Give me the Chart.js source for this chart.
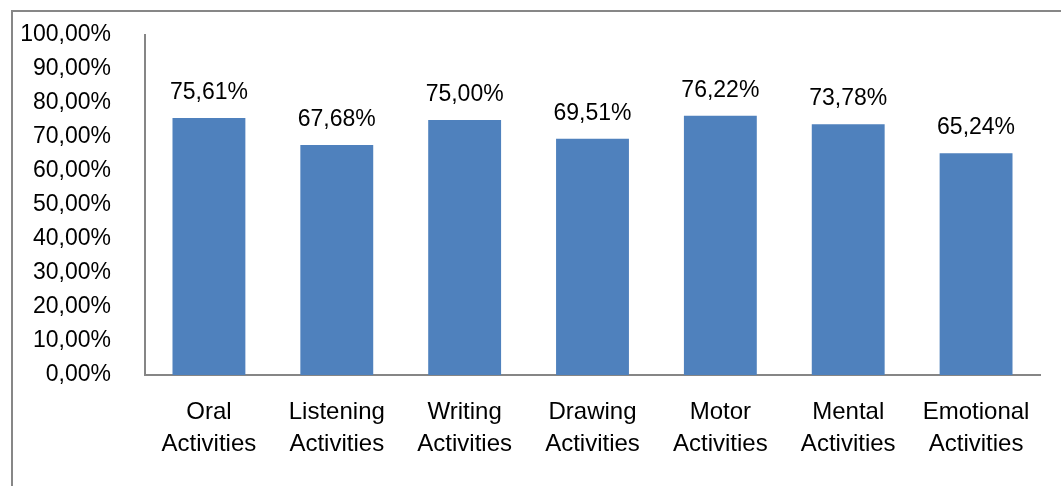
<!DOCTYPE html>
<html><head><meta charset="utf-8">
<script src="https://cdn.jsdelivr.net/npm/chart.js@4/dist/chart.umd.min.js"></script>
<style>html,body{margin:0;padding:0;background:#fff;overflow:hidden}#wrap{width:1061px;height:486px;position:relative}</style>
</head><body><div id="wrap"><canvas id="c" width="1061" height="486"></canvas></div>
<script>
const categories = [["Oral","Activities"],["Listening","Activities"],["Writing","Activities"],["Drawing","Activities"],["Motor","Activities"],["Mental","Activities"],["Emotional","Activities"]];
const values = [75.61, 67.68, 75.00, 69.51, 76.22, 73.78, 65.24];
const FONT = "'Liberation Sans', Arial, sans-serif";
const fmt = v => v.toFixed(2).replace('.', ',') + '%';

const frame = {
  id: 'frame',
  beforeDraw(chart) {
    const ctx = chart.ctx;
    ctx.save();
    ctx.fillStyle = '#fff';
    ctx.fillRect(0, 0, chart.width, chart.height);
    ctx.strokeStyle = '#878787';
    ctx.lineWidth = 2;
    ctx.beginPath();
    ctx.moveTo(12, 500);
    ctx.lineTo(12, 11);
    ctx.lineTo(1070, 11);
    ctx.stroke();
    ctx.restore();
  }
};
const labelsPlugin = {
  id: 'vlabels',
  afterDatasetsDraw(chart) {
    const ctx = chart.ctx;
    ctx.save();
    ctx.font = '23px ' + FONT;
    ctx.fillStyle = '#000';
    ctx.textAlign = 'center';
    ctx.textBaseline = 'alphabetic';
    chart.getDatasetMeta(0).data.forEach((bar, i) => {
      ctx.fillText(fmt(values[i]), bar.x, bar.y - 19);
    });
    ctx.restore();
  }
};

new Chart(document.getElementById('c'), {
  type: 'bar',
  data: { labels: categories, datasets: [{ data: values, backgroundColor: '#4F81BD', borderWidth: 0, categoryPercentage: 1, barPercentage: 0.57 }] },
  options: {
    responsive: false, animation: false,
    layout: { padding: { top: 35, right: 21, left: 0, bottom: 0 } },
    plugins: { legend: { display: false }, tooltip: { enabled: false } },
    scales: {
      x: {
        grid: { display: false },
        border: { display: true, color: '#868686', width: 2 },
        ticks: { color: '#000', font: { family: FONT, size: 24, lineHeight: 1.33 }, padding: 13, maxRotation: 0, autoSkip: false },
        afterFit(s) { s.height = 486 - 375; s.paddingLeft = 0; s.paddingRight = 0; }
      },
      y: {
        min: 0, max: 100,
        grid: { display: false },
        border: { display: true, color: '#868686', width: 2 },
        ticks: { stepSize: 10, color: '#000', font: { family: FONT, size: 23 }, padding: 26, callback: v => fmt(v) },
        afterFit(s) { s.width = 145; s.paddingTop = 0; s.paddingBottom = 0; }
      }
    }
  },
  plugins: [frame, labelsPlugin]
});
</script></body></html>
